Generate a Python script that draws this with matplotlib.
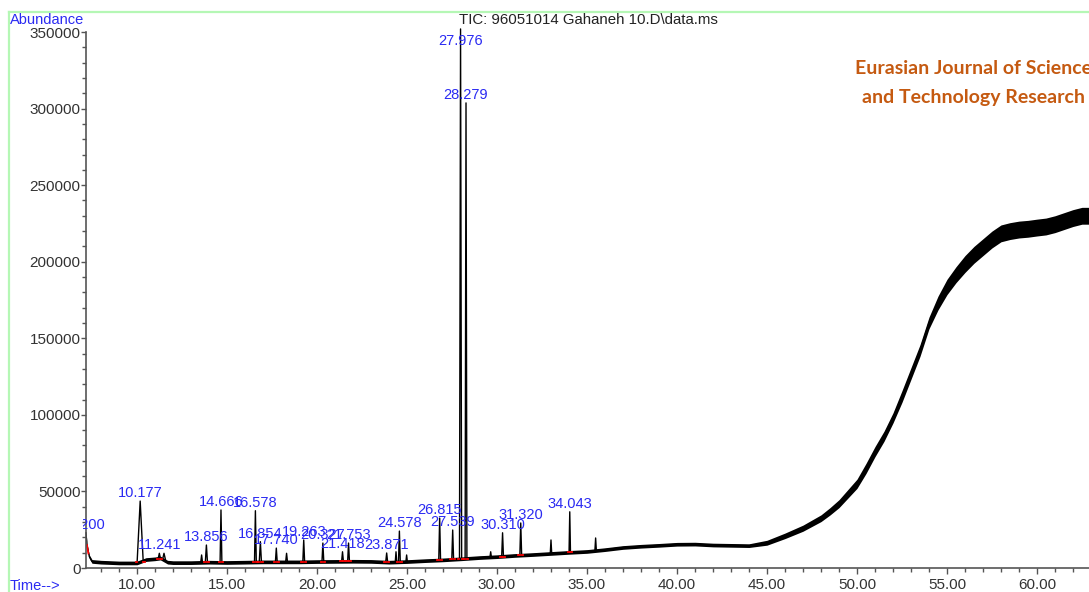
import numpy as np
import matplotlib.pyplot as plt
from matplotlib.lines import Line2D
from matplotlib.transforms import Bbox
from matplotlib.ticker import MultipleLocator, FormatStrFormatter

plt.rcParams['font.family'] = ['Liberation Sans', 'DejaVu Sans']

# TIC baseline (time in min, abundance) with half-width of the noise band
base_t = [7.17, 7.22, 7.35, 7.5, 8, 9, 10, 10.5, 11.0, 11.3, 11.7,
          12, 13, 14, 15, 16, 17, 18, 19, 20, 21, 22, 23, 24, 25, 26, 27, 28,
          29, 30, 31, 32, 33, 34, 35, 36, 37, 38, 39, 40, 41, 42, 43, 44,
          45, 46, 47,
          48, 48.5, 49, 49.5, 50, 50.5, 51, 51.5, 52, 52.5, 53, 53.5, 54,
          54.5, 55, 55.5, 56, 56.5, 57, 57.5, 58, 58.5, 59, 59.5, 60, 60.5,
          61, 61.5, 62, 62.5, 63]
base_y = [23000, 15000, 7400, 4300, 3800, 3300, 3300, 5500, 6000, 6500, 3800,
          3500, 3500, 3800, 3600, 3800, 4000, 4000, 4000, 4200, 4300, 4400,
          4300, 3800, 4200, 4800, 5300, 6000, 6800, 7400, 8200, 8800, 9500,
          10200, 10800, 12000, 13400, 14200, 14800, 15500, 15600, 15000, 14800,
          14600, 16500, 21000, 26000,
          32500, 37000, 42000, 48500, 55000, 65000, 76000, 86000, 98000,
          112000, 127000, 142000, 160000, 173000, 183500, 191500, 198500,
          204500, 209500, 214500, 218500, 220000, 221000, 221500, 222300,
          223000, 224500, 226500, 228500, 230000, 230000]
base_noise = ([1200] * 44 + [1600, 1800, 2000]
              + [2200, 2400, 2600, 2800, 3000] + [3300] * 4 + [3800] * 4
              + [4500, 5000, 5200] + [5500] * 15)

# peaks: retention time, apex, foot level, half width (min)
peak_t = [10.177, 11.241, 11.50, 13.59, 13.856, 14.666, 16.578, 16.854, 17.740,
          18.31, 19.263, 20.327, 21.418, 21.753, 23.871, 24.39, 24.578, 24.98,
          26.815, 27.539, 27.976, 28.279, 29.65, 30.310, 31.320, 33.0, 34.043,
          35.48]
peak_h = [43700, 9600, 9600, 8500, 15000, 37900, 37400, 17200, 13000,
          9600, 18300, 16300, 10600, 16300, 9800, 10600, 24100, 8500,
          32600, 24800, 352000, 303700, 10600, 23000, 29400, 18300, 36700,
          19600]
peak_base = [3800, 6200, 5500, 3600, 3700, 3700, 3800, 3900, 4000,
             4000, 4000, 4200, 4300, 4300, 4200, 4100, 4100, 4200,
             5100, 5600, 5800, 6000, 7000, 7300, 8300, 9500, 10200,
             11500]
peak_w = [0.17, 0.06, 0.08, 0.05, 0.06, 0.05, 0.05, 0.06, 0.05,
          0.05, 0.05, 0.05, 0.05, 0.05, 0.05, 0.04, 0.05, 0.04,
          0.05, 0.05, 0.06, 0.05, 0.04, 0.05, 0.05, 0.04, 0.04,
          0.04]

# labelled retention times and their apex abundance
label_t = [7.200, 10.177, 11.241, 13.856, 14.666, 16.578, 16.854, 17.740,
           19.263, 20.327, 21.418, 21.753, 23.871, 24.578, 26.815, 27.539,
           27.976, 28.279, 30.310, 31.320, 34.043]
label_h = [23000, 43700, 9600, 15000, 37900, 37400, 17200, 13000,
           18300, 16300, 10600, 16300, 9800, 24100, 32600, 24800,
           352000, 303700, 23000, 29400, 36700]

W, H = 1089, 592
fig = plt.figure(figsize=(W / 100, H / 100), dpi=100)
ax = fig.add_axes([86 / W, 24 / H, 1 - 86 / W, 536 / H])

bt = np.array(base_t)
by = np.array(base_y)
bn = np.array(base_noise)
ax.fill_between(bt, by - bn, by + bn, color='black', lw=0, clip_on=False)
ax.plot(bt, by, color='black', lw=0.9, clip_on=False)

for t, h, b, w in zip(peak_t, peak_h, peak_base, peak_w):
    ax.plot([t - w, t, t + w], [b, h, b], color='black', lw=1.0, clip_on=False)

blue = '#2a2af2'
label_clip = Bbox.from_extents(83, 0, W, H)
for t, h in zip(label_t, label_h):
    ann = ax.annotate(f'{t:.3f}', xy=(t, min(h, 339000)), xytext=(0, 8),
                      textcoords='offset pixels', ha='center', va='center',
                      color=blue, fontsize=10.5)
    ann.set_clip_on(True)
    ann.set_clip_box(label_clip)

# red integration marks at the feet of labelled peaks
for t, b, w in zip(peak_t, peak_base, peak_w):
    if any(abs(t - lt) < 0.01 for lt in label_t):
        ax.plot([t - w - 0.08, t - w], [b, b], color='red', lw=1.3)
        ax.plot([t + w, t + w + 0.08], [b, b], color='red', lw=1.3)
ax.plot([7.22, 7.3], [15000, 9500], color='red', lw=1.3)

ax.set_xlim(7.167, 62.89)
ax.set_ylim(0, 350000)
ax.xaxis.set_major_locator(MultipleLocator(5))
ax.xaxis.set_minor_locator(MultipleLocator(1))
ax.xaxis.set_major_formatter(FormatStrFormatter('%.2f'))
ax.yaxis.set_major_locator(MultipleLocator(50000))
ax.yaxis.set_minor_locator(MultipleLocator(10000))
ax.yaxis.set_major_formatter(FormatStrFormatter('%d'))
for s in ['top', 'right']:
    ax.spines[s].set_visible(False)
for s in ['left', 'bottom']:
    ax.spines[s].set_color('#555555')
    ax.spines[s].set_linewidth(1.2)
ax.tick_params(which='major', length=4, width=1, color='#555555',
               labelsize=11, labelcolor='#333333')
ax.tick_params(which='minor', length=3, width=1, color='#555555')
ax.tick_params(axis='y', which='major', length=3.5, pad=0.5)
ax.tick_params(axis='x', which='major', pad=3)

fig.text(10 / W, 1 - 20 / H, 'Abundance', color=blue, fontsize=10.5,
         ha='left', va='center')
fig.text(10 / W, 1 - 586 / H, 'Time-->', color=blue, fontsize=10.5,
         ha='left', va='center')
fig.text(459 / W, 1 - 20 / H, 'TIC: 96051014 Gahaneh 10.D\\data.ms',
         color='#222222', fontsize=10.8, ha='left', va='center')

orange = '#c55a11'
fig.text(855 / W, 1 - 68 / H, 'Eurasian Journal of Science', color=orange,
         fontsize=14, fontweight='bold', family='Lato', ha='left', va='center')
fig.text(974 / W, 1 - 97 / H, 'and Technology Research', color=orange,
         fontsize=14, fontweight='bold', family='Lato', ha='center', va='center')

green = '#b5f7b5'
fig.add_artist(Line2D([9 / W, 1], [1 - 12 / H, 1 - 12 / H], color=green, lw=1.6))
fig.add_artist(Line2D([9 / W, 9 / W], [0, 1 - 12 / H], color=green, lw=1.6))

fig.savefig('out.png', dpi=100)
